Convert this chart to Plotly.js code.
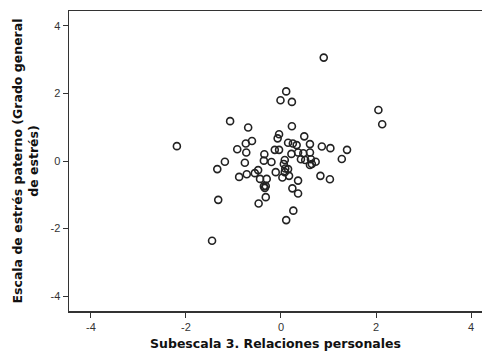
<!DOCTYPE html>
<html><head><meta charset="utf-8">
<script src="https://cdn.plot.ly/plotly-3.0.1.min.js"></script>
<style>html,body{margin:0;padding:0;background:#fff}#c{width:482px;height:357px}</style>
</head><body><div id="c"></div>
<script>
const relacionesPersonales = [0.90,0.11,-0.01,0.23,2.05,2.13,-1.07,-0.69,0.23,-0.04,-0.07,0.49,-0.61,-0.74,-2.19,0.15,0.25,0.33,0.61,0.86,1.04,1.39,-0.92,-0.73,-0.35,-0.13,-0.04,0.22,0.36,0.47,0.61,1.28,-1.18,-0.76,-0.36,-0.20,0.08,0.06,0.42,0.51,0.63,0.73,0.65,-1.34,-0.48,-0.55,-0.72,-0.88,-0.44,-0.30,-0.11,0.03,0.09,0.17,0.61,0.36,0.83,1.03,-0.36,-0.32,-0.34,0.24,0.36,-1.32,-0.32,-0.47,0.26,0.11,-1.45,0.08,0.15];
const estresPaterno = [3.06,2.06,1.80,1.75,1.51,1.09,1.18,0.99,1.03,0.79,0.67,0.73,0.59,0.52,0.44,0.54,0.52,0.47,0.50,0.43,0.38,0.33,0.35,0.25,0.20,0.33,0.33,0.21,0.25,0.23,0.25,0.06,-0.02,-0.05,0.01,-0.03,0.03,-0.09,0.05,0.03,0.05,-0.02,-0.09,-0.24,-0.27,-0.36,-0.39,-0.47,-0.53,-0.53,-0.33,-0.49,-0.22,-0.44,-0.12,-0.58,-0.44,-0.54,-0.75,-0.74,-0.80,-0.81,-0.96,-1.15,-1.07,-1.26,-1.47,-1.75,-2.36,-0.33,-0.24];
const tickVals = [-4,-2,0,2,4];
const tickText = ['-4','-2','0','2','4'];

const trace = {
  x: relacionesPersonales, y: estresPaterno, type: 'scatter', mode: 'markers',
  marker: {symbol: 'circle-open', size: 7, color: '#222', line: {width: 1.6, color: '#222'}},
  hoverinfo: 'none'
};
const titleFont = {family: 'DejaVu Sans, Verdana, sans-serif', size: 12.5, color: '#111', weight: 'bold'};
const axisBase = {
  showgrid: false, zeroline: false, showline: true, linecolor: '#333', linewidth: 1.5,
  ticks: 'outside', ticklen: 5, tickwidth: 1, tickcolor: '#333',
  tickvals: tickVals, ticktext: tickText,
  tickfont: {family: 'Liberation Sans, Arial, sans-serif', size: 11, color: '#333'}
};
const layout = {
  width: 482, height: 357, paper_bgcolor: '#fff', plot_bgcolor: '#fff',
  margin: {l: 69, r: 0, t: 11, b: 46},
  showlegend: false,
  xaxis: Object.assign({}, axisBase, {
    range: [-4.46, 4.23], mirror: true,
    title: {text: 'Subescala 3. Relaciones personales', standoff: 7, font: titleFont}
  }),
  yaxis: Object.assign({}, axisBase, {
    range: [-4.44, 4.44], mirror: false,
    title: {text: 'Escala de estrés paterno (Grado general<br>de estrés)', standoff: 9, font: titleFont}
  })
};
Plotly.newPlot('c', [trace], layout, {staticPlot: true, displayModeBar: false});
</script></body></html>
